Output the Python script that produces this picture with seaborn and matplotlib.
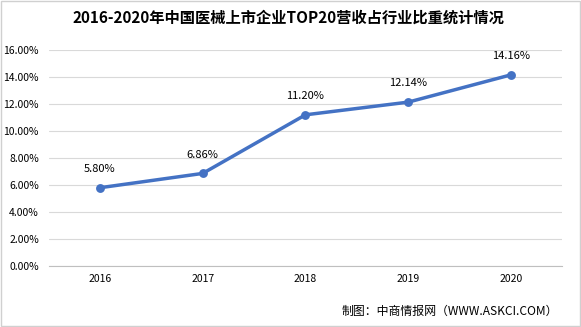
import matplotlib
matplotlib.use("Agg")
import matplotlib.pyplot as plt
import seaborn as sns
import pandas as pd
from matplotlib.ticker import FuncFormatter, MultipleLocator
from matplotlib.patches import Rectangle

years = ["2016", "2017", "2018", "2019", "2020"]
shares = [5.80, 6.86, 11.20, 12.14, 14.16]
value_labels = ["5.80%", "6.86%", "11.20%", "12.14%", "14.16%"]
title = "2016-2020年中国医械上市企业TOP20营收占行业比重统计情况"
source = "制图：中商情报网（WWW.ASKCI.COM）"

sns.set_theme(style="white")
plt.rcParams['font.family'] = ['Noto Sans CJK SC', 'DejaVu Sans']

df = pd.DataFrame({"year": years, "share": shares})

fig = plt.figure(figsize=(5.81, 3.27), dpi=100)
ax = fig.add_axes([0.0837, 0.1865, 0.884, 0.6605])

sns.pointplot(data=df, x="year", y="share", ax=ax, color="#4472C4",
              markers="o", markersize=4.5, linewidth=2.5, errorbar=None)

ax.set_xlim(-0.5, len(years) - 0.5)
ax.set_ylim(0, 16)
ax.yaxis.set_major_locator(MultipleLocator(2))
ax.yaxis.set_major_formatter(FuncFormatter(lambda v, p: f"{v:.2f}%"))
ax.grid(axis="y", color="#D9D9D9", linewidth=0.8)
ax.set_axisbelow(True)
for s in ["top", "right", "left"]:
    ax.spines[s].set_visible(False)
ax.spines["bottom"].set_color("#BFBFBF")
ax.spines["bottom"].set_linewidth(0.8)
ax.set_xlabel("")
ax.set_ylabel("")
ax.tick_params(axis="both", labelsize=7.5, colors="#000000", length=0, pad=6)
ax.tick_params(axis="y", pad=7)

for i, (v, lab) in enumerate(zip(shares, value_labels)):
    ax.annotate(lab, (i, v), xytext=(0, 10), textcoords="offset points",
                ha="center", va="bottom", fontsize=8, color="#000000")

fig.text(0.497, 0.945, title, ha="center", va="center", fontsize=11,
         fontweight="bold", color="#000000")
fig.text(0.96, 0.048, source, ha="right", va="center", fontsize=8.6,
         color="#000000")

fig.patches.append(Rectangle((0.001, 0.002), 0.997, 0.995, transform=fig.transFigure,
                             fill=False, edgecolor="#D0D0D0", linewidth=1))

fig.savefig("out.png", dpi=100, facecolor="white")
